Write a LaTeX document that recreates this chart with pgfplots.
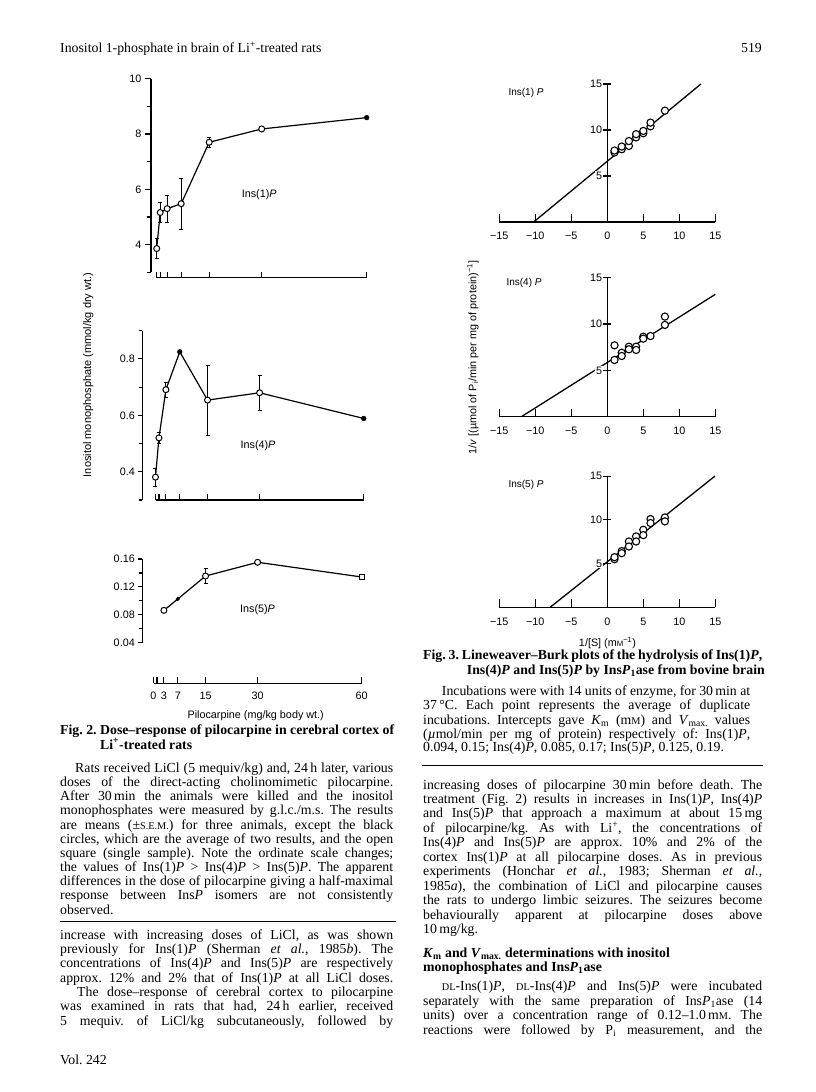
\documentclass[border=0pt]{standalone}
\usepackage{pgfplots}
\pgfplotsset{compat=1.18}
\usepackage{fontspec}
\setmainfont{Liberation Serif}
\setsansfont{Liberation Sans}
\newfontfamily\figfont{Liberation Sans}
\newcommand\bodysize{\fontsize{13.8}{14.4}\selectfont\frenchspacing}
\newcommand\figsize{\figfont\fontsize{10.8}{11}\selectfont}
\newcommand\fsc[1]{{\fontsize{10.3}{10}\selectfont #1}}
\newcommand\Jline[4]{\node[anchor=mid west,inner sep=0pt,font=\bodysize] at (#1pt,-#2pt) {\makebox[#3pt][s]{#4}};}
\newcommand\Lline[3]{\node[anchor=mid west,inner sep=0pt,font=\bodysize] at (#1pt,-#2pt) {#3};}
\pgfplotsset{
  ftwo/.style={scale only axis, clip=false, axis x line=none, axis y line=left,
    axis line style={-, line width=1.1pt}, tick style={line width=1.1pt, black},
    tick align=outside, major tick length=6pt, minor tick length=4pt,
    yticklabel style={font=\figsize}, anchor=south west},
  xline/.style={scale only axis, y=1pt, ymin=0, ymax=1, xmin=0, xmax=60,
    axis x line=bottom, axis y line=none, axis line style={-, line width=1.1pt},
    tick style={line width=1.1pt, black}, tick align=inside, major tick length=6pt,
    xtick={0,1,3,7,15,30,60}, xticklabels={}, anchor=south west},
  fthree/.style={scale only axis, clip=false, axis on top,
    axis lines=middle, axis line style={-, line width=1.1pt},
    x=7.2pt, xmin=-15, xmax=15, ymin=0, ymax=15,
    xtick={-15,-10,-5,0,5,10,15}, xticklabels={−15,−10,−5,0,5,10,15},
    ytick={5,10,15}, yticklabels={5,10,15},
    hide obscured x ticks=false, hide obscured y ticks=false,
    tick align=center, major tick length=8pt,
    tick style={line width=1.1pt, black},
    every major x tick/.append style={yshift=4pt},
    xticklabel style={font=\figsize, anchor=north, text height=7.8pt, text depth=0pt, yshift=-2.5pt},
    yticklabel style={font=\figsize, fill=white, inner sep=1pt},
    anchor=south west},
  openmk/.style={only marks, mark=*, mark size=3pt, mark options={fill=white, draw=black, line width=1pt}},
  fillmk/.style={only marks, mark=*, mark size=2.4pt, mark options={fill=black, draw=black}},
  lbmk/.style={only marks, mark=*, mark size=3.6pt, mark options={fill=white, draw=black, line width=1.1pt}},
  ebar/.style={only marks, mark=none, error bars/.cd, y dir=both, y explicit, error bar style={line width=0.9pt}},
}
\begin{document}
\begin{tikzpicture}[x=1pt,y=1pt]
\fill[white] (0pt,0pt) rectangle (816pt,-1092pt);
\path[use as bounding box] (0pt,0pt) rectangle (816pt,-1092pt);

% ---------------- Fig. 2 ----------------
% Ins(1)P
\begin{axis}[ftwo, x=3.5pt, y=27.67pt, xmin=-1.63, xmax=60, ymin=3, ymax=10,
  ytick={4,6,8,10}, yticklabels={4,6,8,10}, minor ytick={3,5,7,9}, at={(151pt,-272.3pt)}]
\addplot[line width=1.2pt] coordinates {(0,3.86)(1,5.16)(3,5.30)(7,5.48)(15,7.70)(30,8.18)(60,8.59)};
\addplot[ebar] coordinates {(0,3.86)+-(0,0.36) (1,5.16)+-(0,0.36) (3,5.30)+-(0,0.5) (7,5.48)+-(0,0.93) (15,7.70)+-(0,0.19) (30,8.18)+-(0,0.06)};
\addplot[openmk] coordinates {(0,3.86)(1,5.16)(3,5.30)(7,5.48)(15,7.70)(30,8.18)};
\addplot[fillmk] coordinates {(60,8.59)};
\end{axis}
\begin{axis}[xline, x=3.5pt, at={(156.7pt,-277.5pt)}]
\end{axis}
% Ins(4)P
\begin{axis}[ftwo, x=3.47pt, y=282.2pt, xmin=-3.8, xmax=60, ymin=0.3, ymax=0.9,
  ytick={0.4,0.6,0.8}, yticklabels={0.4,0.6,0.8}, minor ytick={0.3,0.5,0.7,0.9},
  major tick length=4pt, minor tick length=3pt, at={(142.3pt,-500pt)}]
\addplot[line width=1.2pt] coordinates {(0,0.381)(1,0.52)(3,0.691)(7,0.825)(15,0.654)(30,0.68)(60,0.589)};
\addplot[ebar] coordinates {(0,0.381)+-(0,0.032) (1,0.52)+-(0,0.02) (3,0.691)+-(0,0.025) (15,0.654)+-(0,0.124) (30,0.68)+-(0,0.062)};
\addplot[openmk] coordinates {(0,0.381)(1,0.52)(3,0.691)(15,0.654)(30,0.68)};
\addplot[fillmk] coordinates {(7,0.825)(60,0.589)};
\end{axis}
\begin{axis}[xline, x=3.47pt, at={(155.5pt,-500pt)}]
\end{axis}
% Ins(5)P
\begin{axis}[ftwo, x=3.47pt, y=697.5pt, xmin=-3.23, xmax=60, ymin=0.04, ymax=0.16,
  ytick={0.04,0.08,0.12,0.16}, yticklabels={0.04,0.08,0.12,0.16}, minor ytick={0.06,0.10,0.14},
  major tick length=4pt, minor tick length=3pt, at={(142.3pt,-642.7pt)}]
\addplot[line width=1.2pt] coordinates {(3,0.0864)(7,0.1027)(15,0.1356)(30,0.1553)(60,0.1342)};
\addplot[ebar] coordinates {(15,0.1356)+-(0,0.011)};
\addplot[openmk] coordinates {(3,0.0864)(15,0.1356)(30,0.1553)};
\addplot[fillmk, mark size=1.9pt] coordinates {(7,0.1027)};
\addplot[only marks, mark=square*, mark size=2.7pt, mark options={fill=white, draw=black, line width=1pt}] coordinates {(60,0.1342)};
\end{axis}
\begin{axis}[xline, x=3.47pt, at={(153.5pt,-683.3pt)}, xticklabels={0,,3,7,15,30,60},
  xticklabel style={font=\figsize, yshift=-5pt}]
\end{axis}
\node[font=\figsize] at (255.7pt,-716pt) {Pilocarpine (mg/kg body wt.)};
\node[rotate=90, font=\figfont\fontsize{11}{11}\selectfont] at (88.3pt,-375pt) {Inositol monophosphate (mmol/kg dry wt.)};
\node[font=\figfont\fontsize{10.8}{11}\selectfont] at (259.2pt,-195pt) {Ins(1)\textit{P}};
\node[font=\figfont\fontsize{10.8}{11}\selectfont] at (258pt,-445.7pt) {Ins(4)\textit{P}};
\node[font=\figfont\fontsize{10.8}{11}\selectfont] at (257.5pt,-609.3pt) {Ins(5)\textit{P}};

% ---------------- Fig. 3 ----------------
\begin{axis}[fthree, y=9.2pt, at={(499.3pt,-222pt)}]
\addplot[line width=1.3pt] coordinates {(-10.23,0) (13.0,15)};
\addplot[lbmk] coordinates {(1,7.55)(1,7.77)(2,7.91)(2,8.2)(3,8.27)(3,8.8)(4,9.2)(4,9.55)(5,9.65)(5,9.9)(6,10.4)(6,10.8)(8,12.1)};
\end{axis}
\begin{axis}[fthree, y=9.27pt, at={(499.3pt,-416.7pt)}]
\addplot[line width=1.3pt] coordinates {(-11.94,0) (15,13.2)};
\addplot[lbmk] coordinates {(1,7.7)(1,6.12)(2,6.9)(2,6.55)(3,7.55)(3,7.27)(4,7.55)(4,7.2)(5,8.63)(5,8.42)(6,8.7)(8,10.8)(8,9.9)};
\end{axis}
\begin{axis}[fthree, y=8.75pt, at={(499.3pt,-607.3pt)}]
\addplot[line width=1.3pt] coordinates {(-7.94,0) (14.96,15)};
\addplot[lbmk] coordinates {(1,5.5)(1,5.73)(2,6.42)(2,6.19)(3,7.52)(3,6.95)(4,8.1)(4,7.52)(5,8.86)(5,8.25)(6,10.08)(6,9.63)(8,10.27)(8,9.82)};
\end{axis}
\node[anchor=west, font=\figfont\fontsize{10}{10}\selectfont] at (505pt,-93.3pt) {Ins(1) \textit{P}};
\node[anchor=west, font=\figfont\fontsize{10}{10}\selectfont] at (503pt,-282.7pt) {Ins(4) \textit{P}};
\node[anchor=west, font=\figfont\fontsize{10}{10}\selectfont] at (505pt,-485pt) {Ins(5) \textit{P}};
\node[font=\figsize] at (607.5pt,-642.7pt) {1/[S] (m{\fontsize{7.8}{8}\selectfont M}\textsuperscript{−1})};
\node[rotate=90, font=\figfont\fontsize{10.8}{11}\selectfont] at (473pt,-357.5pt) {1/\textit{v} [(µmol of P\textsubscript{i}/min per mg of protein)\textsuperscript{−1}]};

% ---------------- Text ----------------
\Lline{60}{50}{Inositol 1-phosphate in brain of Li\textsuperscript{+}-treated rats}
\node[anchor=mid east,inner sep=0pt,font=\bodysize] at (762pt,-50pt) {519};

% Fig. 2 caption
\Jline{60}{732.3}{334}{\bfseries Fig. 2. Dose–response of pilocarpine in cerebral cortex of}
\Lline{100}{746.7}{\bfseries Li\textsuperscript{+}-treated rats}
\Jline{75}{770.0}{318}{Rats received LiCl (5 mequiv/kg) and, 24\,h later, various}
\Jline{60}{784.2}{333}{doses of the direct-acting cholinomimetic pilocarpine.}
\Jline{60}{798.3}{333}{After 30\,min the animals were killed and the inositol}
\Jline{60}{812.5}{333}{monophosphates were measured by g.l.c./m.s. The results}
\Jline{60}{826.7}{333}{are means (±\fsc{S.E.M.}) for three animals, except the black}
\Jline{60}{840.9}{333}{circles, which are the average of two results, and the open}
\Jline{60}{855.0}{333}{square (single sample). Note the ordinate scale changes;}
\Jline{60}{869.2}{333}{the values of Ins(1)\textit{P} > Ins(4)\textit{P} > Ins(5)\textit{P}. The apparent}
\Jline{60}{883.4}{333}{differences in the dose of pilocarpine giving a half-maximal}
\Jline{60}{897.5}{333}{response between Ins\textit{P} isomers are not consistently}
\Lline{60}{911.7}{observed.}
\draw[line width=0.6pt] (60pt,-921.7pt) -- (396pt,-921.7pt);
\Jline{60}{936.7}{333}{increase with increasing doses of LiCl, as was shown}
\Jline{60}{951.0}{333}{previously for Ins(1)\textit{P} (Sherman \textit{et al.}, 1985\textit{b}). The}
\Jline{60}{965.4}{333}{concentrations of Ins(4)\textit{P} and Ins(5)\textit{P} are respectively}
\Jline{60}{979.7}{333}{approx. 12\% and 2\% that of Ins(1)\textit{P} at all LiCl doses.}
\Jline{77}{994.0}{316}{The dose–response of cerebral cortex to pilocarpine}
\Jline{60}{1008.4}{333}{was examined in rats that had, 24\,h earlier, received}
\Jline{60}{1022.7}{333}{5 mequiv. of LiCl/kg subcutaneously, followed by}
\Lline{60}{1061.7}{Vol. 242}

% Fig. 3 caption
\Jline{423}{657.3}{339}{\bfseries Fig. 3. Lineweaver–Burk plots of the hydrolysis of Ins(1)\textit{P},}
\Lline{466.7}{671.7}{\bfseries Ins(4)\textit{P} and Ins(5)\textit{P} by Ins\textit{P}\textsubscript{1}ase from bovine brain}
\Jline{441.7}{693.3}{308.3}{Incubations were with 14 units of enzyme, for 30\,min at}
\Jline{423}{707.5}{327}{37\,°C. Each point represents the average of duplicate}
\Jline{423}{721.7}{327}{incubations. Intercepts gave \textit{K}\textsubscript{m} (m\fsc{M}) and \textit{V}\textsubscript{max.} values}
\Jline{423}{735.8}{327}{(\textit{µ}mol/min per mg of protein) respectively of: Ins(1)\textit{P},}
\Lline{423}{749.6}{0.094, 0.15; Ins(4)\textit{P}, 0.085, 0.17; Ins(5)\textit{P}, 0.125, 0.19.}
\draw[line width=0.6pt] (422pt,-765pt) -- (762.7pt,-765pt);
\Jline{423}{786.7}{339}{increasing doses of pilocarpine 30\,min before death. The}
\Jline{423}{801.2}{339}{treatment (Fig. 2) results in increases in Ins(1)\textit{P}, Ins(4)\textit{P}}
\Jline{423}{815.6}{339}{and Ins(5)\textit{P} that approach a maximum at about 15\,mg}
\Jline{423}{830.1}{339}{of pilocarpine/kg. As with Li\textsuperscript{+}, the concentrations of}
\Jline{423}{844.5}{339}{Ins(4)\textit{P} and Ins(5)\textit{P} are approx. 10\% and 2\% of the}
\Jline{423}{859.0}{339}{cortex Ins(1)\textit{P} at all pilocarpine doses. As in previous}
\Jline{423}{873.4}{339}{experiments (Honchar \textit{et al.}, 1983; Sherman \textit{et al.},}
\Jline{423}{887.9}{339}{1985\textit{a}), the combination of LiCl and pilocarpine causes}
\Jline{423}{902.3}{339}{the rats to undergo limbic seizures. The seizures become}
\Jline{423}{916.8}{339}{behaviourally apparent at pilocarpine doses above}
\Lline{423}{931.2}{10\,mg/kg.}
\Lline{423}{955.0}{\bfseries \textit{K}\textsubscript{m} and \textit{V}\textsubscript{max.} determinations with inositol}
\Lline{423}{969.0}{\bfseries monophosphates and Ins\textit{P}\textsubscript{1}ase}
\Jline{441.7}{988.3}{320.3}{\fsc{DL}-Ins(1)\textit{P}, \fsc{DL}-Ins(4)\textit{P} and Ins(5)\textit{P} were incubated}
\Jline{423}{1002.8}{339}{separately with the same preparation of Ins\textit{P}\textsubscript{1}ase (14}
\Jline{423}{1017.2}{339}{units) over a concentration range of 0.12–1.0\,m\fsc{M}. The}
\Jline{423}{1031.7}{339}{reactions were followed by P\textsubscript{i} measurement, and the}
\end{tikzpicture}
\end{document}
